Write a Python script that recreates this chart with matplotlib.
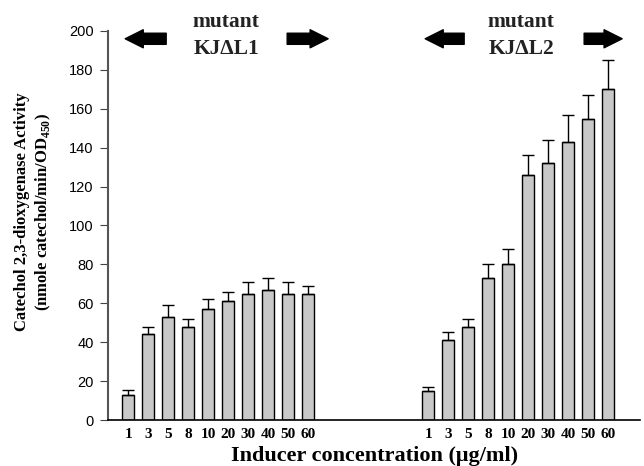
import numpy as np
from matplotlib import pyplot as plt

conc = ['1', '3', '5', '8', '10', '20', '30', '40', '50', '60']
act_l1 = [13, 44, 53, 48, 57, 61, 65, 67, 65, 65]
err_l1 = [2.5, 4, 6, 4, 5, 5, 6, 6, 6, 4]
act_l2 = [15, 41, 48, 73, 80, 126, 132, 143, 155, 170]
err_l2 = [2, 4, 4, 7, 8, 10, 12, 14, 12, 15]

plt.rcParams['mathtext.fontset'] = 'custom'
plt.rcParams['mathtext.rm'] = 'Liberation Serif:bold'
plt.rcParams['mathtext.bf'] = 'Liberation Serif:bold'

serif = 'Liberation Serif'
sans = 'Liberation Sans'

fig = plt.figure(figsize=(6.44, 4.66), dpi=100)
ax = fig.add_axes([0.168, 0.0987, 0.826, 0.8348])

x1 = np.arange(len(conc))
x2 = x1 + 15
bar_kw = dict(width=0.62, color='#c8c8c8', edgecolor='black', linewidth=1, zorder=2)
err_kw = dict(ecolor='black', elinewidth=1, capsize=4, capthick=1)
ax.bar(x1, act_l1, yerr=[np.zeros(len(err_l1)), err_l1], error_kw=err_kw, **bar_kw)
ax.bar(x2, act_l2, yerr=[np.zeros(len(err_l2)), err_l2], error_kw=err_kw, **bar_kw)

ax.set_xlim(-1, 25.6)
ax.set_ylim(0, 200)
ax.set_yticks(range(0, 201, 20))
ax.set_xticks(list(x1) + list(x2))
ax.set_xticklabels(conc + conc, fontfamily=serif, fontweight='bold', fontsize=11)
for t in ax.get_yticklabels():
    t.set_fontfamily(sans)
    t.set_fontsize(10.5)
ax.tick_params(axis='x', length=0, pad=6)
ax.tick_params(axis='y', direction='out', length=5.5, color='#444444', pad=5)

for s in ['top', 'right']:
    ax.spines[s].set_visible(False)
ax.spines['left'].set_color('#555555')
ax.spines['left'].set_linewidth(1.5)
ax.spines['bottom'].set_linewidth(1.2)

ax.set_xlabel('Inducer concentration (\u03bcg/ml)', fontfamily=serif,
              fontweight='bold', fontsize=16, labelpad=3)
ax.set_ylabel('Catechol 2,3-dioxygenase Activity\n(nmole catechol/min/OD$_{\\mathrm{450}}$)',
              fontfamily=serif, fontweight='bold', fontsize=12, linespacing=1.25)
ax.yaxis.set_label_coords(-0.104, 0.535)

# group headers with block arrows
arrow_kw = dict(arrowstyle='simple,head_length=13,head_width=13,tail_width=8',
                mutation_scale=1, color='black', shrinkA=0, shrinkB=0)
for tail, head in [(1.9, -0.15), (7.95, 10.0), (16.8, 14.85), (22.8, 24.7)]:
    ax.annotate('', xy=(head, 196), xytext=(tail, 196), arrowprops=arrow_kw,
                annotation_clip=False)
for xc, name in [(4.9, 'KJ\u0394L1'), (19.65, 'KJ\u0394L2')]:
    ax.text(xc, 204.5, 'mutant', ha='center', va='center', fontfamily=serif,
            fontweight='bold', fontsize=15.5, clip_on=False, color='#222222')
    ax.text(xc, 190.5, name, ha='center', va='center', fontfamily=serif,
            fontweight='bold', fontsize=15.5, clip_on=False, color='#222222')

fig.savefig('out.png', dpi=100)
